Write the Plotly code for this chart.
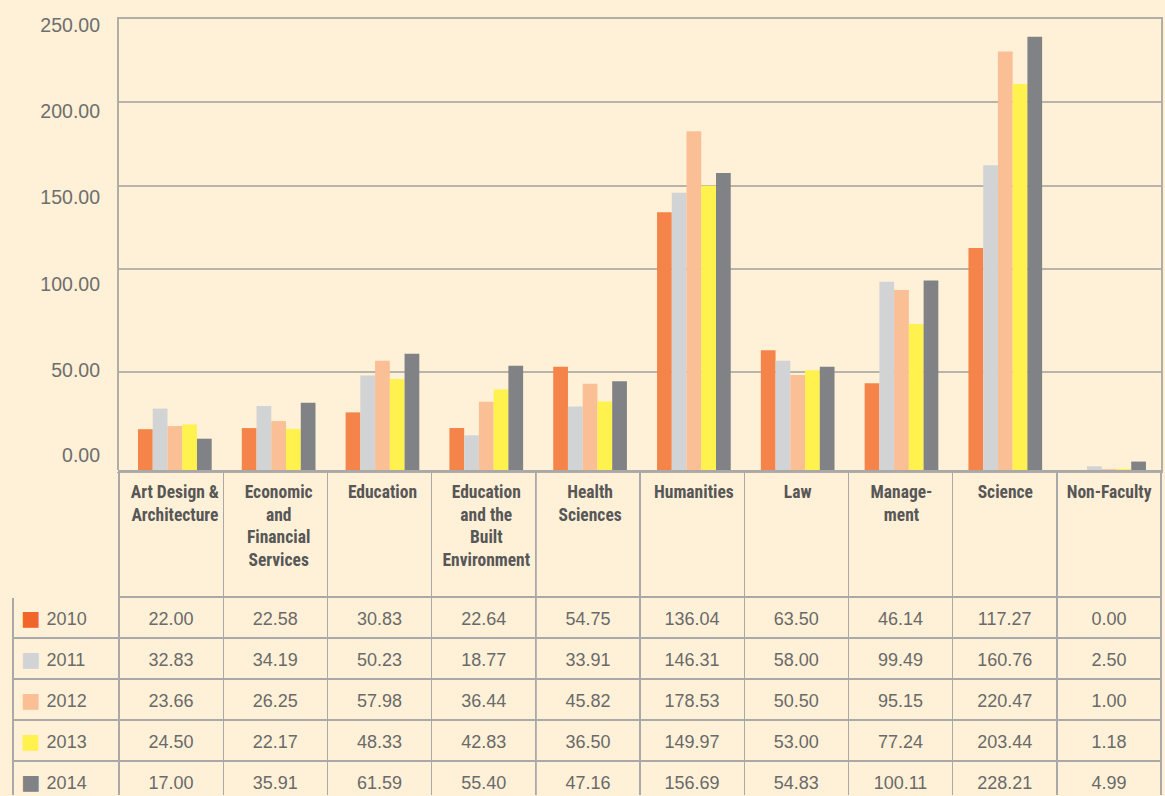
import plotly.graph_objects as go

# ---------------- data ----------------
categories = ["Art Design & Architecture", "Economic and Financial Services", "Education",
              "Education and the Built Environment", "Health Sciences", "Humanities", "Law",
              "Management", "Science", "Non-Faculty"]
header_labels = ["Art Design &<br>Architecture", "Economic<br>and<br>Financial<br>Services", "Education",
                 "Education<br>and the<br>Built<br>Environment", "Health<br>Sciences", "Humanities", "Law",
                 "Manage-<br>ment", "Science", "Non-Faculty"]
years = ["2010", "2011", "2012", "2013", "2014"]
v2010 = [22.00, 22.58, 30.83, 22.64, 54.75, 136.04, 63.50, 46.14, 117.27, 0.00]
v2011 = [32.83, 34.19, 50.23, 18.77, 33.91, 146.31, 58.00, 99.49, 160.76, 2.50]
v2012 = [23.66, 26.25, 57.98, 36.44, 45.82, 178.53, 50.50, 95.15, 220.47, 1.00]
v2013 = [24.50, 22.17, 48.33, 42.83, 36.50, 149.97, 53.00, 77.24, 203.44, 1.18]
v2014 = [17.00, 35.91, 61.59, 55.40, 47.16, 156.69, 54.83, 100.11, 228.21, 4.99]
series = [v2010, v2011, v2012, v2013, v2014]

# axis labels as printed in the reference (positioned where they appear there)
tick_text = ["0.00", "50.00", "100.00", "150.00", "200.00", "250.00"]
tick_pos = [8.1, 53.0, 98.4, 143.9, 189.3, 234.2]
grid_pos = [52.2, 106.0, 149.9, 193.7]

colors = ["#F5844A", "#D2D3D5", "#FBBF96", "#FFF24E", "#818285"]
key_colors = ["#F2652A", "#D2D3D5", "#FBBF96", "#FFF24E", "#818285"]
BG = "#FFF1D7"
W, H = 1165, 796
NARROW = "Liberation Sans Narrow, Roboto Condensed, Arial Narrow, sans-serif"
SANS = "Liberation Sans, Arial, sans-serif"

fig = go.Figure()
for yr, vals, col in zip(years, series, colors):
    fig.add_trace(go.Bar(x=categories, y=vals, name=yr, marker_color=col,
                         marker_line_width=0, xaxis="x", yaxis="y"))

# invisible trace to carry the second y axis used for the printed labels
fig.add_trace(go.Scatter(x=[categories[0]], y=[0], mode="markers", marker_opacity=0,
                         showlegend=False, hoverinfo="skip", xaxis="x", yaxis="y2"))

# data table below the chart (taller spacer glyphs centre the text vertically)
num_fmt = '\u00a0<span style="font-size:18px">{}</span>\u00a0<br>'
key_fmt = ('<span style="font-family:DejaVu Sans;font-size:20.5px;color:{c}">■</span>'
           '\u00a0<span style="font-size:18px">{y}</span><br>')
header_vals = [""] * (len(categories) + 1)
key_col = [key_fmt.format(c=c, y=y) for c, y in zip(key_colors, years)]
cell_cols = [key_col] + [[num_fmt.format(f"{s[i]:.2f}") for s in series]
                         for i in range(len(categories))]
fig.add_trace(go.Table(
    domain=dict(x=[13 / W, 1161 / W], y=[0, (H - 469) / H]),
    columnwidth=[106] + [104.2] * 10,
    header=dict(values=header_vals, height=126, align="center",
                fill_color="rgba(0,0,0,0)",
                line=dict(color=[BG] + ["#A9A9A9"] * 10, width=1.4),
                font=dict(family=NARROW, size=17, color="#575757")),
    cells=dict(values=cell_cols, height=40, align=["left"] + ["center"] * 10,
               fill_color="rgba(0,0,0,0)", line=dict(color="#A9A9A9", width=1.4),
               font=dict(family=SANS, size=22.4, color="#6A6A6A")),
))

x0, x1 = 119 / W, 1161 / W
y0, y1 = (H - 469) / H, (H - 14) / H
yr_max = 455 / 1.915

fig.update_layout(
    width=W, height=H, margin=dict(l=0, r=0, t=0, b=0),
    paper_bgcolor=BG, plot_bgcolor=BG, showlegend=False,
    barmode="group", bargap=0.29, bargroupgap=0,
    xaxis=dict(domain=[x0, x1], tickmode="array", tickvals=categories, ticktext=header_labels,
               ticks="", showgrid=False, ticklabelstandoff=4,
               tickfont=dict(family=NARROW, size=17.5, color="#575757", weight="bold"),
               showline=True, linecolor="#B3AEA5", linewidth=1.5, mirror=True, zeroline=False),
    yaxis=dict(domain=[y0, y1], range=[0, yr_max], tickvals=grid_pos, showticklabels=False,
               showgrid=True, gridcolor="#B9B4AA", gridwidth=1.5, zeroline=False,
               showline=True, linecolor="#B3AEA5", linewidth=1.5, mirror=True, ticks=""),
    yaxis2=dict(domain=[y0, y1], range=[0, yr_max], overlaying="y", side="left",
                tickvals=tick_pos, ticktext=tick_text, showgrid=False, zeroline=False,
                showline=False, ticks="", ticklabelstandoff=18,
                tickfont=dict(family=SANS, size=19.5, color="#6E6E6E")),
)

fig.write_html("out.html", config={"displayModeBar": False},
               post_script="document.body.style.margin='0';")
